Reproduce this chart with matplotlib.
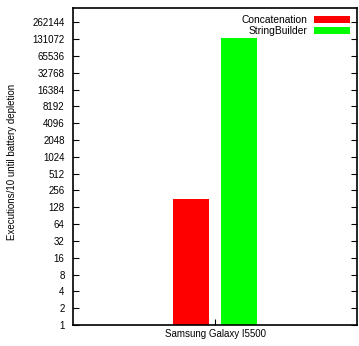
import matplotlib
matplotlib.use("Agg")
import matplotlib.pyplot as plt

# data
device = ["Samsung Galaxy I5500"]
series = ["Concatenation", "StringBuilder"]
values = [181, 138000]
colors = ["#ff0000", "#00ff00"]

plt.rcParams["font.family"] = ["Liberation Sans", "DejaVu Sans"]
plt.rcParams["font.size"] = 7

fig = plt.figure(figsize=(3.59, 3.46), dpi=100)
ax = fig.add_axes([73/359, 1-325/346, 284/359, 317/346])

width = 0.254
offs = [-0.169, 0.169]
for i in range(len(series)):
    ax.bar(0 + offs[i], values[i], width, color=colors[i], label=series[i], bottom=1)

ax.set_yscale("log", base=2)
ax.set_ylim(1, 2**18.85)
yt = [2**k for k in range(19)]
ax.set_yticks(yt)
ax.set_yticklabels([str(v) for v in yt])
ax.minorticks_off()
ax.set_xlim(-1, 1)
ax.set_xticks([0])
ax.set_xticklabels(device)
ax.tick_params(direction="in", length=4, width=0.8, right=True, top=False, pad=3)
ax.tick_params(axis="y", pad=6)
for s in ax.spines.values():
    s.set_linewidth(1.2)

ax.set_ylabel("Executions/10 until battery depletion")
ax.yaxis.set_label_coords(-0.197, 0.514)

leg = ax.legend(loc="upper right", frameon=False, markerfirst=False,
                handlelength=3.5, handleheight=0.6, handletextpad=0.6,
                labelspacing=0.1, borderaxespad=0.3, fontsize=7.4)
for t in leg.get_texts():
    t.set_ha("right")

fig.savefig("out.png", dpi=100)
